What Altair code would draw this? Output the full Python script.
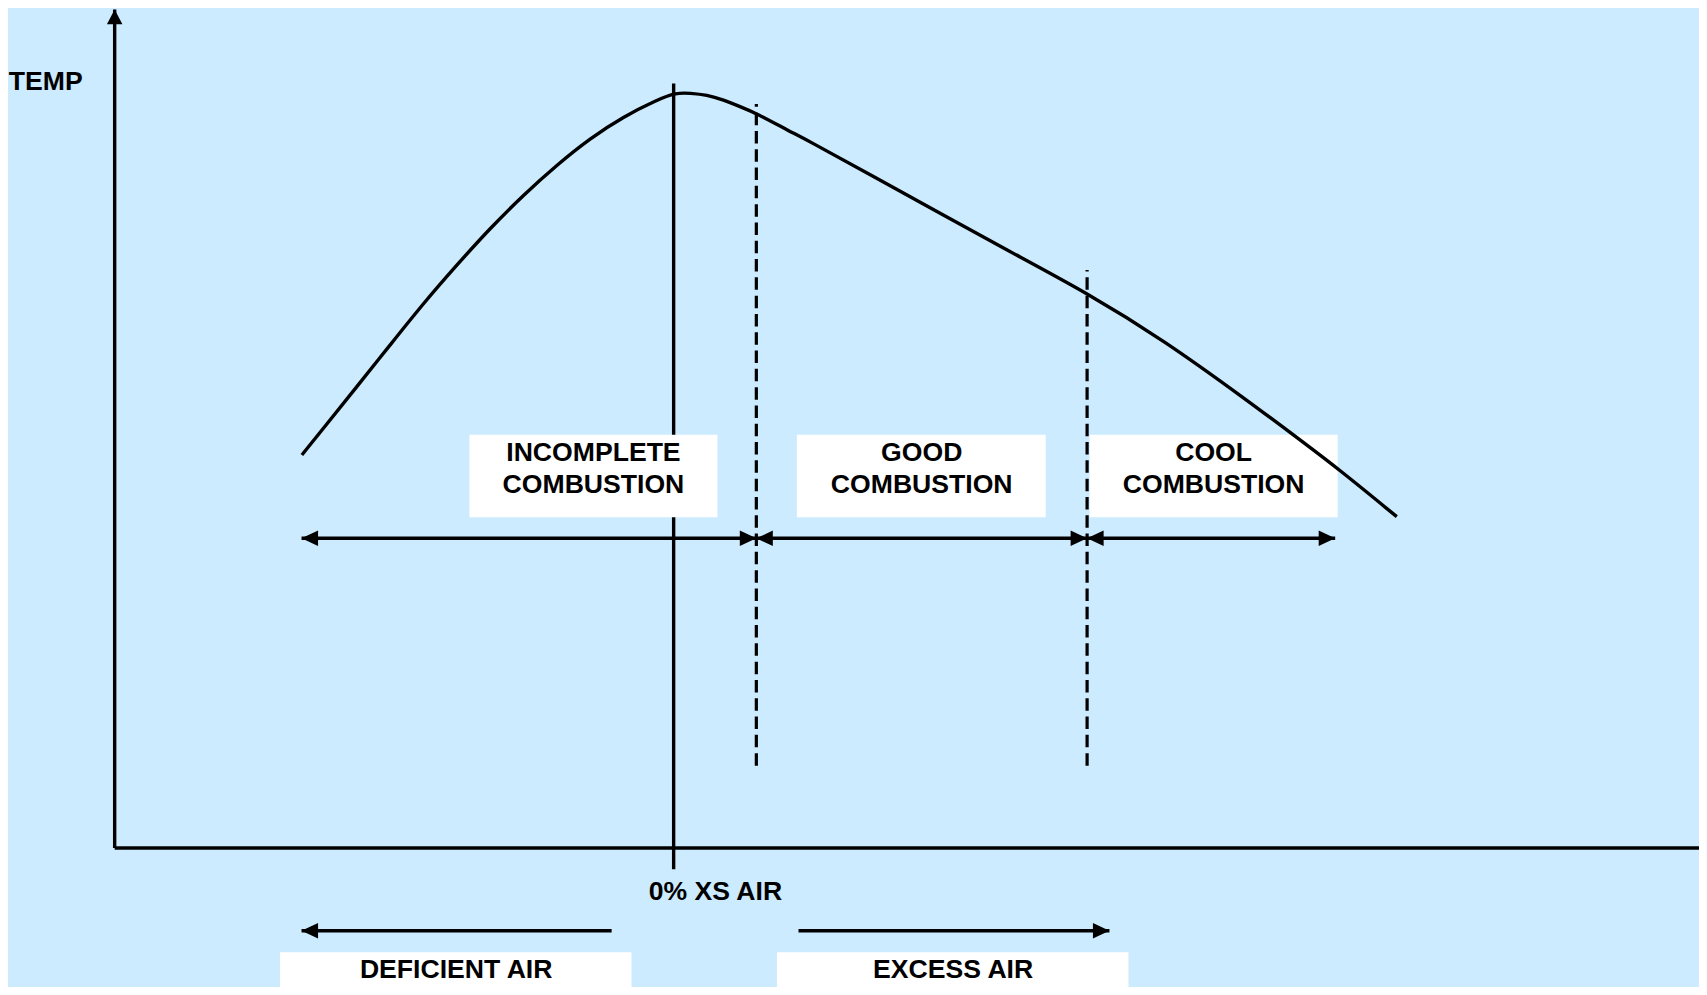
import altair as alt
import pandas as pd

BG = "#CCEBFF"
FONT = "Liberation Sans"

# ---- data (x: excess air %, t: temperature, arbitrary units) ----
curve_air = [-44.96, -42.35, -38.31, -34.28, -30.25, -26.22, -22.19, -18.16, -14.12,
             -10.10, -6.07, -2.03, 0.3, 2.0, 4.01, 6.02, 8.04, 10.0, 14.09, 16.11,
             24.16, 32.22, 40.29, 49.96, 59.23, 69.31, 74.95, 80.31, 87.45]
curve_temp = [52.03, 55.57, 61.08, 66.60, 72.12, 77.19, 82.05, 86.46, 90.43,
              93.96, 96.82, 99.03, 100.0, 99.92, 99.70, 99.03, 98.15, 97.27, 94.84, 93.74,
              88.88, 84.03, 79.17, 73.52, 67.26, 59.31, 54.68, 50.27, 43.86]

zone_line1 = ["INCOMPLETE", "GOOD", "COOL"]
zone_line2 = ["COMBUSTION", "COMBUSTION", "COMBUSTION"]
zone_box_x0 = [-24.7, 14.9, 50.3]
zone_box_x1 = [5.3, 45.0, 80.3]
zone_text_x = [-9.7, 30.0, 65.3]
zone_box_t = [43.8, 54.7]
zone_text_t = [51.2, 47.0]
zone_arrow_from = [-45, 10, 50]
zone_arrow_to = [10, 50, 80]
zone_arrow_t = 41.0

dashed_x = [10, 50]
dashed_top = [98.5, 76.5]
dashed_bottom = 10.9

zero_line = {"x": 0, "t0": -2.8, "t1": 101.2}

axis_origin = (-67.6, 0)
axis_x_end = 125
axis_y_end = 111.0

bottom_labels = ["DEFICIENT AIR", "EXCESS AIR"]
bottom_box_x0 = [-47.6, 12.5]
bottom_box_x1 = [-5.1, 55.0]
bottom_text_x = [-26.3, 33.8]
bottom_box_t = [-19.2, -13.8]
bottom_text_t = -17.25
bottom_arrow_from = [-7.5, 15.1]
bottom_arrow_to = [-45, 52.7]
bottom_arrow_t = -10.95

xs_label = {"text": "0% XS AIR", "x": 5.05, "t": -6.9}
temp_label = {"text": "TEMP", "x": -80.4, "t": 100.4}

# ---- scales ----
XS = alt.Scale(domain=[-80.5, 124.0], nice=False, zero=False)
YS = alt.Scale(domain=[-18.4, 111.2], nice=False, zero=False)


def X(f):
    return alt.X(f, type="quantitative", scale=XS, axis=None)


def Y(f):
    return alt.Y(f, type="quantitative", scale=YS, axis=None)


# ---- tables ----
curve_df = pd.DataFrame({"x": curve_air, "t": curve_temp})

boxes_df = pd.DataFrame({
    "x0": zone_box_x0 + bottom_box_x0,
    "x1": zone_box_x1 + bottom_box_x1,
    "t0": [zone_box_t[0]] * 3 + [bottom_box_t[0]] * 2,
    "t1": [zone_box_t[1]] * 3 + [bottom_box_t[1]] * 2,
})

solid_rules = []
solid_rules.append({"x0": axis_origin[0], "x1": axis_origin[0], "t0": axis_origin[1], "t1": axis_y_end})
solid_rules.append({"x0": axis_origin[0], "x1": axis_x_end, "t0": axis_origin[1], "t1": axis_origin[1]})
for a, b in zip(zone_arrow_from, zone_arrow_to):
    solid_rules.append({"x0": a, "x1": b, "t0": zone_arrow_t, "t1": zone_arrow_t})
for a, b in zip(bottom_arrow_from, bottom_arrow_to):
    solid_rules.append({"x0": a, "x1": b, "t0": bottom_arrow_t, "t1": bottom_arrow_t})
rules_df = pd.DataFrame(solid_rules)

zero_df = pd.DataFrame([{"x0": zero_line["x"], "x1": zero_line["x"],
                         "t0": zero_line["t0"], "t1": zero_line["t1"]}])

dashed_df = pd.DataFrame({"x0": dashed_x, "x1": dashed_x,
                          "t0": [dashed_bottom] * 2, "t1": dashed_top})

RIGHT = "M0,0L-2.13,-1L-2.13,1Z"
LEFT = "M0,0L2.13,-1L2.13,1Z"
UP = "M0,0L-1,1.9L1,1.9Z"
heads = [{"x": axis_origin[0], "t": axis_y_end, "shape": UP}]
for a, b in zip(zone_arrow_from, zone_arrow_to):
    heads.append({"x": a, "t": zone_arrow_t, "shape": LEFT})
    heads.append({"x": b, "t": zone_arrow_t, "shape": RIGHT})
for a, b in zip(bottom_arrow_from, bottom_arrow_to):
    heads.append({"x": b, "t": bottom_arrow_t, "shape": LEFT if b < a else RIGHT})
heads_df = pd.DataFrame(heads)

text_rows = []
for name1, name2, tx in zip(zone_line1, zone_line2, zone_text_x):
    text_rows.append({"x": tx, "t": zone_text_t[0], "label": name1})
    text_rows.append({"x": tx, "t": zone_text_t[1], "label": name2})
for lab, tx in zip(bottom_labels, bottom_text_x):
    text_rows.append({"x": tx, "t": bottom_text_t, "label": lab})
text_rows.append({"x": xs_label["x"], "t": xs_label["t"], "label": xs_label["text"]})
text_df = pd.DataFrame(text_rows)

temp_df = pd.DataFrame([{"x": temp_label["x"], "t": temp_label["t"], "label": temp_label["text"]}])

# ---- layers ----
LW = 3.4

zero_layer = alt.Chart(zero_df).mark_rule(color="black", strokeWidth=LW).encode(
    x=X("x0"), x2=alt.X2("x1"), y=Y("t0"), y2=alt.Y2("t1"))

box_layer = alt.Chart(boxes_df).mark_rect(color="white").encode(
    x=X("x0"), x2=alt.X2("x1"), y=Y("t0"), y2=alt.Y2("t1"))

curve_layer = alt.Chart(curve_df).mark_line(
    color="black", strokeWidth=LW, interpolate="basis").encode(x=X("x"), y=Y("t"))

dashed_layer = alt.Chart(dashed_df).mark_rule(
    color="black", strokeWidth=3.2, strokeDash=[12.5, 5.8]).encode(
    x=X("x0"), x2=alt.X2("x1"), y=Y("t0"), y2=alt.Y2("t1"))

rules_layer = alt.Chart(rules_df).mark_rule(color="black", strokeWidth=LW).encode(
    x=X("x0"), x2=alt.X2("x1"), y=Y("t0"), y2=alt.Y2("t1"))

heads_layer = alt.Chart(heads_df).mark_point(
    filled=True, color="black", opacity=1, size=240, strokeWidth=0).encode(
    x=X("x"), y=Y("t"), shape=alt.Shape("shape:N", scale=None))

text_layer = alt.Chart(text_df).mark_text(
    font=FONT, fontWeight="bold", fontSize=26.6, color="black",
    align="center", baseline="alphabetic").encode(
    x=X("x"), y=Y("t"), text="label:N")

temp_layer = alt.Chart(temp_df).mark_text(
    font=FONT, fontWeight="bold", fontSize=26.6, color="black",
    align="left", baseline="alphabetic").encode(
    x=X("x"), y=Y("t"), text="label:N")

chart = alt.layer(
    zero_layer, box_layer, curve_layer, dashed_layer, rules_layer,
    heads_layer, text_layer, temp_layer
).properties(
    width=1691, height=979, background=BG, padding=0,
    autosize=alt.AutoSizeParams(type="none")
).configure_view(strokeWidth=0, fill=BG)

chart.save("out.html", embed_options={"renderer": "svg", "actions": False})
